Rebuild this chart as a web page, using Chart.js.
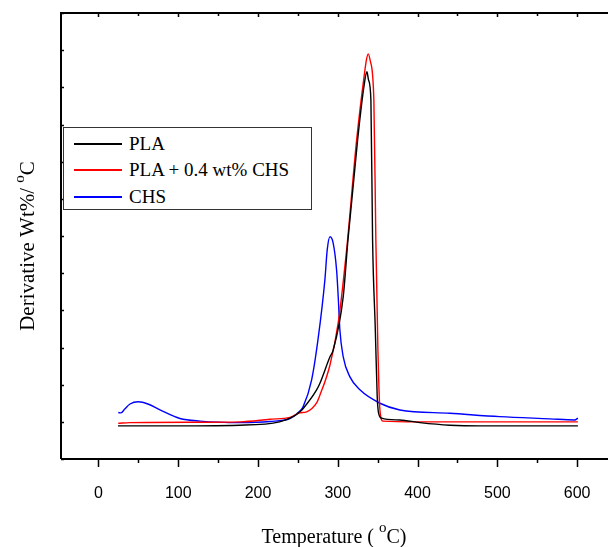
<!DOCTYPE html>
<html>
<head>
<meta charset="utf-8">
<script src="https://cdn.jsdelivr.net/npm/chart.js@4"></script>
<style>
  body { margin: 0; overflow: hidden; background: #fff; }
  #wrap { position: relative; width: 630px; height: 547px; }
  #legend {
    position: absolute; left: 63px; top: 127px; width: 247px; height: 81px;
    border: 1px solid #333; background: #fff;
    font: 19px "Liberation Serif", "Times New Roman", serif; color: #000;
  }
  .row { position: absolute; left: 0; height: 24px; display: flex; align-items: center; white-space: nowrap; }
  .sw { display: inline-block; width: 48px; height: 1.2px; margin-left: 10px; margin-right: 7px; }
</style>
</head>
<body>
<div id="wrap">
  <canvas id="dtg" width="630" height="547"></canvas>
  <div id="legend"></div>
</div>
<script>
// series names and colours
const names = ['PLA', 'PLA + 0.4 wt% CHS', 'CHS'];
const colors = ['#000000', '#ff0000', '#0000ff'];

// PLA
const plaT = [24.4, 77, 177, 227, 244, 252.5, 256.6, 273.4, 277.6, 290.2, 294.2, 306.8, 312.7, 324.8, 333, 336.5, 338.5, 341.5, 343.6, 347, 349.4, 351, 354.9, 377.8, 402.9, 440.5, 478, 601];
const plaV = [0.089, 0.089, 0.091, 0.100, 0.114, 0.127, 0.136, 0.186, 0.204, 0.275, 0.293, 0.437, 0.589, 0.858, 1.006, 1.042, 1.02, 0.966, 0.589, 0.35, 0.168, 0.125, 0.110, 0.105, 0.098, 0.091, 0.089, 0.089];

// PLA + 0.4 wt% CHS
const pcT = [24.8, 39.3, 127, 177, 214.9, 240, 252.5, 261, 273.4, 277.6, 290.2, 300.5, 311, 323.6, 333, 336, 338.1, 340.5, 345.2, 347.7, 350.3, 352.8, 356.5, 400, 601];
const pcV = [0.096, 0.098, 0.099, 0.100, 0.107, 0.112, 0.124, 0.127, 0.151, 0.172, 0.253, 0.366, 0.562, 0.858, 1.03, 1.075, 1.090, 1.073, 0.966, 0.589, 0.293, 0.132, 0.102, 0.100, 0.100];

// CHS
const chsT = [24.8, 28.2, 33.2, 39.5, 49.9, 62, 77.1, 102.1, 127.2, 177.3, 214.9, 240, 252.5, 256.6, 267.2, 275.4, 283.8, 286.7, 290.2, 294.2, 298.5, 300.5, 302.6, 306.8, 315.2, 327.7, 352.8, 377.8, 440.5, 503, 565.8, 597.1, 601];
const chsV = [0.125, 0.124, 0.135, 0.148, 0.154, 0.148, 0.132, 0.109, 0.102, 0.098, 0.101, 0.109, 0.129, 0.141, 0.213, 0.325, 0.482, 0.562, 0.598, 0.581, 0.508, 0.437, 0.347, 0.275, 0.221, 0.186, 0.150, 0.132, 0.123, 0.114, 0.108, 0.105, 0.110];

// x tick labels
const xMajor = [0, 100, 200, 300, 400, 500, 600];
const xMinor = [50, 150, 250, 350, 450, 550, 650];
const yTicks = [0, 0.1, 0.2, 0.3, 0.4, 0.5, 0.6, 0.7, 0.8, 0.9, 1.0, 1.1, 1.2];

function pts(xs, ys) {
  return xs.map((x, i) => ({ x: x, y: ys[i] }));
}

const series = [pts(plaT, plaV), pts(pcT, pcV), pts(chsT, chsV)];

// html legend
const leg = document.getElementById('legend');
const rowTop = [4, 30, 57];
names.forEach((n, i) => {
  const r = document.createElement('div');
  r.className = 'row';
  r.style.top = rowTop[i] + 'px';
  const sw = document.createElement('span');
  sw.className = 'sw';
  sw.style.background = colors[i];
  const tx = document.createElement('span');
  tx.textContent = n;
  r.appendChild(sw);
  r.appendChild(tx);
  leg.appendChild(r);
});

const serif = '"Liberation Serif", "Times New Roman", serif';

// frame, ticks and axis titles
const framePlugin = {
  id: 'frame',
  afterDatasetsDraw(chart) {
    const ctx = chart.ctx;
    const a = chart.chartArea;
    const xs = chart.scales.x, ys = chart.scales.y;
    ctx.save();
    ctx.strokeStyle = '#000';
    ctx.lineWidth = 2;
    ctx.beginPath();
    ctx.moveTo(a.left, a.bottom);
    ctx.lineTo(a.left, a.top);
    ctx.lineTo(a.right, a.top);
    ctx.moveTo(a.left, a.bottom);
    ctx.lineTo(a.right, a.bottom);
    ctx.stroke();

    ctx.lineWidth = 1.5;
    ctx.beginPath();
    xMajor.forEach(v => {
      const px = Math.round(xs.getPixelForValue(v)) + 0.5;
      ctx.moveTo(px, a.bottom); ctx.lineTo(px, a.bottom + 8);
      ctx.moveTo(px, a.top); ctx.lineTo(px, a.top + 4);
    });
    xMinor.forEach(v => {
      const px = Math.round(xs.getPixelForValue(v)) + 0.5;
      ctx.moveTo(px, a.bottom); ctx.lineTo(px, a.bottom + 4);
      ctx.moveTo(px, a.top); ctx.lineTo(px, a.top + 3);
    });
    yTicks.forEach(v => {
      const py = Math.round(ys.getPixelForValue(v)) + 0.5;
      ctx.moveTo(a.left, py); ctx.lineTo(a.left + 3, py);
    });
    ctx.stroke();

    // x title
    ctx.fillStyle = '#000';
    ctx.textBaseline = 'alphabetic';
    const p1 = 'Temperature ( ', p3 = 'C)';
    ctx.font = '20px ' + serif;
    const w1 = ctx.measureText(p1).width, w3 = ctx.measureText(p3).width;
    ctx.font = '15px ' + serif;
    const w2 = ctx.measureText('o').width;
    let x0 = 334 - (w1 + w2 + w3) / 2;
    ctx.font = '20px ' + serif;
    ctx.fillText(p1, x0, 543);
    ctx.font = '15px ' + serif;
    ctx.fillText('o', x0 + w1, 532);
    ctx.font = '20px ' + serif;
    ctx.fillText(p3, x0 + w1 + w2, 543);

    // y title
    ctx.translate(34, 246);
    ctx.rotate(-Math.PI / 2);
    const q1 = 'Derivative Wt%/ ', q3 = 'C';
    ctx.font = '21px ' + serif;
    const v1 = ctx.measureText(q1).width, v3 = ctx.measureText(q3).width;
    ctx.font = '15px ' + serif;
    const v2 = ctx.measureText('o').width;
    let y0 = -(v1 + v2 + v3) / 2;
    ctx.font = '21px ' + serif;
    ctx.fillText(q1, y0, 0);
    ctx.font = '15px ' + serif;
    ctx.fillText('o', y0 + v1, -10);
    ctx.font = '21px ' + serif;
    ctx.fillText(q3, y0 + v1 + v2, 0);
    ctx.restore();
  }
};

new Chart(document.getElementById('dtg'), {
  type: 'line',
  data: {
    datasets: series.map((d, i) => ({
      label: names[i],
      data: d,
      borderColor: colors[i],
      borderWidth: 1.4,
      pointRadius: 0,
      fill: false,
      cubicInterpolationMode: 'monotone'
    }))
  },
  options: {
    responsive: false,
    animation: false,
    layout: { padding: { top: 13, right: 13, left: 0, bottom: 0 } },
    plugins: { legend: { display: false }, tooltip: { enabled: false } },
    scales: {
      x: {
        type: 'linear',
        min: -47,
        max: 650,
        afterBuildTicks: s => { s.ticks = xMajor.map(v => ({ value: v })); },
        afterFit: s => { s.height = 88; },
        grid: { drawOnChartArea: false, drawTicks: false },
        border: { display: false },
        ticks: {
          padding: 25,
          maxRotation: 0,
          color: '#000',
          font: { family: '"Liberation Sans", Arial, sans-serif', size: 16 }
        }
      },
      y: {
        min: 0,
        max: 1.2,
        afterFit: s => { s.width = 61; },
        grid: { drawOnChartArea: false, drawTicks: false },
        border: { display: false },
        ticks: { display: false }
      }
    }
  },
  plugins: [framePlugin]
});
</script>
</body>
</html>
